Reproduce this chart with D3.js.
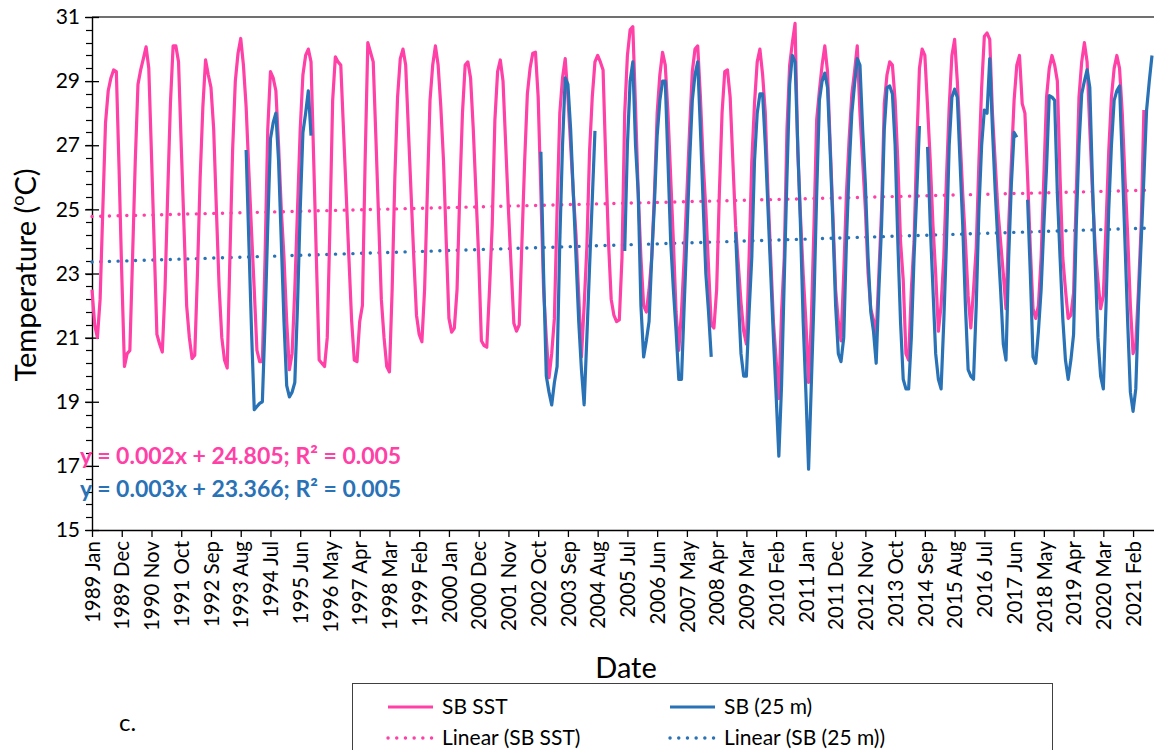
<!DOCTYPE html>
<html><head><meta charset="utf-8">
<script src="https://cdn.jsdelivr.net/npm/d3@7"></script>
<style>body{margin:0;background:#fff} svg text{font-family:Lato,"Open Sans",sans-serif;fill:#000}</style>
</head><body><svg id="c" width="1154" height="750"></svg>
<script>
const tickLabels = ["1989 Jan","1989 Dec","1990 Nov","1991 Oct","1992 Sep","1993 Aug","1994 Jul","1995 Jun","1996 May","1997 Apr","1998 Mar","1999 Feb","2000 Jan","2000 Dec","2001 Nov","2002 Oct","2003 Sep","2004 Aug","2005 Jul","2006 Jun","2007 May","2008 Apr","2009 Mar","2010 Feb","2011 Jan","2011 Dec","2012 Nov","2013 Oct","2014 Sep","2015 Aug","2016 Jul","2017 Jun","2018 May","2019 Apr","2020 Mar","2021 Feb"];
const tickStep = 11;
const yTicks = [15,17,19,21,23,25,27,29,31];

// SB SST, monthly from 1989 Jan
const sst = [
22.5,21.4,21.0,22.2,25.0,27.7,28.7,29.1,29.35,29.3,26.3,23.0,
20.1,20.5,20.6,23.5,26.5,28.9,29.35,29.7,30.07,29.4,26.7,23.9,
21.1,20.8,20.55,22.5,25.5,28.3,30.1,30.1,29.6,27.0,24.5,22.0,
21.0,20.35,20.45,23.0,26.0,28.2,29.66,29.2,28.8,27.5,25.0,22.6,
21.0,20.3,20.05,23.5,26.85,29.0,29.87,30.33,29.5,28.2,26.2,24.3,
22.5,20.6,20.25,20.25,23.5,27.5,29.3,29.1,28.7,27.0,25.0,23.5,
21.5,20.0,20.5,22.5,25.0,27.5,29.2,29.8,30.0,29.6,26.5,23.4,
20.3,20.2,20.1,21.0,24.5,28.4,29.76,29.6,29.5,27.5,25.5,23.5,
21.55,20.3,20.25,21.5,22.0,26.5,30.2,29.9,29.6,27.2,24.7,22.2,
21.0,20.1,19.93,22.5,26.0,28.5,29.7,30.0,29.5,27.5,25.5,23.5,
21.7,21.1,20.87,22.5,25.5,28.4,29.5,30.1,29.5,28.2,26.5,24.0,
21.6,21.17,21.3,22.5,25.5,28.0,29.5,29.6,29.1,27.5,25.5,23.5,
20.9,20.75,20.7,22.5,24.5,27.8,29.3,29.66,29.0,27.0,25.0,23.2,
21.45,21.2,21.4,24.0,26.5,28.6,29.4,29.87,29.9,28.5,25.5,22.5,
21.0,19.75,20.5,21.6,25.0,28.0,29.1,29.7,28.5,27.0,25.5,24.2,
22.3,20.4,22.0,23.8,26.8,28.5,29.6,29.8,29.6,29.35,26.5,24.0,
22.2,21.7,21.5,21.55,23.5,28.0,29.8,30.6,30.7,28.2,25.5,23.5,
22.0,21.8,22.5,23.5,25.5,28.0,29.2,29.9,29.5,28.0,26.0,24.0,
21.8,20.6,21.8,23.5,25.5,27.5,29.3,30.0,30.1,28.5,26.5,25.0,
23.2,21.4,21.3,22.5,25.5,28.0,29.3,29.35,28.5,26.5,24.5,23.3,
22.1,21.2,20.8,23.5,26.5,28.3,29.6,30.0,29.2,28.0,25.5,23.5,
21.5,20.3,19.1,21.8,23.5,27.5,29.5,30.2,30.8,26.8,24.8,23.0,
21.5,19.6,21.5,24.5,27.8,28.7,29.5,30.1,29.3,27.0,24.8,22.5,
21.5,20.9,23.0,25.5,27.2,28.6,29.3,30.1,28.0,26.5,25.0,23.0,
21.9,21.55,21.1,23.0,25.0,28.3,29.2,29.6,29.5,28.4,26.5,24.0,
22.8,20.5,20.3,22.5,24.0,27.0,29.4,30.0,29.8,28.2,26.5,24.5,
23.0,21.2,22.0,23.5,26.0,28.2,29.8,30.3,29.0,27.3,25.5,24.0,
22.3,21.3,22.5,23.8,26.5,28.8,30.4,30.5,30.3,28.0,26.5,25.0,
24.0,23.0,21.9,24.5,26.5,28.4,29.5,29.8,28.3,28.0,26.0,23.8,
21.9,21.6,22.0,23.5,26.0,28.5,29.4,29.8,29.5,29.0,26.0,23.5,
22.5,21.6,21.7,22.4,25.5,28.5,29.6,30.2,29.6,27.5,25.5,23.8,
22.8,21.9,22.3,24.5,26.8,28.5,29.4,29.8,29.4,28.0,26.0,24.2,
22.0,20.5,20.8,22.5,24.5,28.1
];

// SB (25 m), monthly from 1989 Jan (null = no data)
const _ = null;
const sb25 = [
_,_,_,_,_,_,_,_,_,_,_,_,
_,_,_,_,_,_,_,_,_,_,_,_,
_,_,_,_,_,_,_,_,_,_,_,_,
_,_,_,_,_,_,_,_,_,_,_,_,
_,_,_,_,_,_,_,_,_,26.85,24.0,21.2,
18.75,18.85,18.95,19.0,21.5,24.5,27.2,27.7,28.0,26.5,24.0,21.5,
19.5,19.15,19.3,19.6,22.0,25.0,27.4,28.0,28.7,27.3,_,_,
_,_,_,_,_,_,_,_,_,_,_,_,
_,_,_,_,_,_,_,_,_,_,_,_,
_,_,_,_,_,_,_,_,_,_,_,_,
_,_,_,_,_,_,_,_,_,_,_,_,
_,_,_,_,_,_,_,_,_,_,_,_,
_,_,_,_,_,_,_,_,_,_,_,_,
_,_,_,_,_,_,_,_,_,_,26.8,23.0,
19.8,19.3,18.9,19.6,20.1,24.0,27.0,29.1,28.9,27.5,25.5,23.5,
21.5,20.0,18.9,21.0,23.2,25.3,27.45,_,_,_,_,_,
_,_,_,_,_,23.7,27.0,29.0,29.6,27.0,25.5,22.0,
20.4,20.9,21.5,23.5,25.2,27.3,28.4,29.0,29.0,26.5,24.0,22.5,
21.2,19.7,19.7,22.0,24.2,26.5,28.4,29.2,29.6,27.5,25.2,23.0,
21.8,20.4,_,_,_,_,_,_,_,_,24.3,22.3,
20.5,19.8,19.8,21.8,23.5,26.5,28.0,28.6,28.6,27.0,25.0,23.0,
21.0,19.2,17.3,19.5,22.8,26.0,28.9,29.8,29.6,27.0,24.5,21.5,
19.3,16.9,19.5,22.2,25.5,28.4,29.0,29.25,28.8,26.8,24.5,22.0,
20.5,20.25,21.0,24.0,26.3,28.0,28.9,29.7,29.5,27.5,25.8,23.5,
21.8,21.2,20.2,22.5,24.5,27.5,28.8,28.85,28.6,27.0,24.0,21.5,
19.7,19.4,19.4,21.0,23.5,25.5,27.6,_,_,26.95,24.5,22.5,
20.5,19.7,19.4,21.5,24.0,27.0,28.5,28.75,28.5,26.5,24.5,22.0,
20.0,19.8,19.7,22.0,25.0,27.0,28.1,28.0,29.7,27.5,25.6,24.0,
22.5,20.8,20.3,23.5,25.8,27.4,27.25,_,_,_,25.3,23.0,
20.4,20.2,21.2,22.5,24.5,26.3,28.55,28.5,28.4,25.5,23.5,21.6,
20.3,19.7,20.3,21.1,24.5,27.0,28.6,29.0,29.35,28.8,25.8,23.3,
21.0,19.8,19.4,22.0,25.0,27.0,28.4,28.7,28.85,26.5,24.0,21.5,
19.3,18.7,19.4,22.0,24.0,26.0,28.1,29.0,29.8
];

// linear trend lines: value at first and last month (as drawn)
const trendSST = [24.78, 25.60];
const trendSB25 = [23.36, 24.42];
const equations = ["y = 0.002x + 24.805; R\u00B2 = 0.005", "y = 0.003x + 23.366; R\u00B2 = 0.005"];
const legendLabels = ["SB SST", "SB (25 m)", "Linear (SB SST)", "Linear (SB (25 m))"];

const PINK = "#FF40A6", BLUE = "#2A72B6";
const svg = d3.select("#c");
svg.append("rect").attr("width",1154).attr("height",750).attr("fill","#fff");
const nMonths = sb25.length;
const x = d3.scaleLinear().domain([0, nMonths-1]).range([92, 1152]);
const y = d3.scaleLinear().domain([15, 31]).range([530, 17]);

// top border
svg.append("line").attr("x1",92).attr("x2",1154).attr("y1",y(31)).attr("y2",y(31)).attr("stroke","#404040").attr("stroke-width",1.5);

// y axis minor ticks
const minor = d3.range(15, 31.001, 0.4);
svg.append("g").selectAll("line").data(minor).join("line")
  .attr("x1",86).attr("x2",92).attr("y1",d=>Math.round(y(d))+0.5).attr("y2",d=>Math.round(y(d))+0.5)
  .attr("stroke","#000").attr("stroke-width",1.2);
const yAxis = d3.axisLeft(y).tickValues(yTicks).tickSizeInner(7).tickSizeOuter(0).tickPadding(10);
const gy = svg.append("g").attr("transform","translate(92,0)").call(yAxis);
gy.select(".domain").attr("stroke","#000").attr("stroke-width",1.4);
gy.selectAll(".tick line").attr("x2",7).attr("x1",-7).attr("stroke","#000").attr("stroke-width",1.3);
gy.selectAll(".tick text").attr("font-size",21).attr("font-family","Lato").attr("fill","#000").attr("x",-12);

// x axis
const xAxis = d3.axisBottom(x).tickValues(tickLabels.map((d,i)=>i*tickStep))
  .tickFormat((d,i)=>tickLabels[i]).tickSizeInner(7).tickSizeOuter(0);
const gx = svg.append("g").attr("transform","translate(0,530)").call(xAxis);
gx.select(".domain").attr("stroke","#000").attr("stroke-width",1.4).attr("d","M92,0.5H1154");
gx.selectAll(".tick line").attr("stroke","#000").attr("stroke-width",1.3);
gx.selectAll(".tick text").attr("font-size",20.5).attr("font-family","Lato").attr("fill","#000")
  .attr("transform","rotate(-90)").attr("text-anchor","end").attr("x",-11).attr("y",0).attr("dy","0.35em");

// trend lines
const tline = d3.line().x(d=>x(d[0])).y(d=>y(d[1]));
[[trendSST,PINK],[trendSB25,BLUE]].forEach(([t,c])=>{
  svg.append("path").attr("d", tline([[0,t[0]],[nMonths-1,t[1]]]))
    .attr("fill","none").attr("stroke",c).attr("stroke-width",3.4)
    .attr("stroke-linecap","round").attr("stroke-dasharray","0.1 8.6");
});

// series
const line = d3.line().defined(d=>d!=null).x((d,i)=>x(i)).y(d=>y(d));
svg.append("path").attr("d", line(sst)).attr("fill","none").attr("stroke",PINK).attr("stroke-width",3.2).attr("stroke-linejoin","round");
svg.append("path").attr("d", line(sb25)).attr("fill","none").attr("stroke",BLUE).attr("stroke-width",3.2).attr("stroke-linejoin","round");

// equations
svg.append("text").attr("x",80).attr("y",464).attr("font-size",23).attr("font-weight","bold").style("fill",PINK).text(equations[0]);
svg.append("text").attr("x",80).attr("y",497).attr("font-size",23).attr("font-weight","bold").style("fill",BLUE).text(equations[1]);

// axis titles
const yt = svg.append("text").attr("transform","translate(36,275) rotate(-90)").attr("text-anchor","middle").attr("font-size",29);
yt.append("tspan").text("Temperature (");
yt.append("tspan").attr("font-size",18).attr("dy",-12).text("o");
yt.append("tspan").attr("dy",12).text("C)");
svg.append("text").attr("x",626).attr("y",678).attr("text-anchor","middle").attr("font-size",29).text("Date");

// legend
svg.append("rect").attr("x",352.5).attr("y",683.5).attr("width",700).attr("height",90).attr("fill","#fff").attr("stroke","#404040").attr("stroke-width",1);
const leg = [
  {x:388, y:707, c:PINK, dash:null, t:legendLabels[0]},
  {x:670, y:707, c:BLUE, dash:null, t:legendLabels[1]},
  {x:388, y:738, c:PINK, dash:"0.1 8.6", t:legendLabels[2]},
  {x:670, y:738, c:BLUE, dash:"0.1 8.6", t:legendLabels[3]}
];
leg.forEach(l=>{
  const ln = svg.append("line").attr("x1",l.x).attr("x2",l.x+45).attr("y1",l.y).attr("y2",l.y).attr("stroke",l.c).attr("stroke-width",3);
  if(l.dash) ln.attr("stroke-dasharray",l.dash).attr("stroke-linecap","round").attr("stroke-width",3.4);
  svg.append("text").attr("x",l.x+54).attr("y",l.y).attr("dy","0.35em").attr("font-size",21).text(l.t);
});
svg.append("text").attr("x",119).attr("y",731).attr("font-size",24).text("c.");
</script></body></html>
